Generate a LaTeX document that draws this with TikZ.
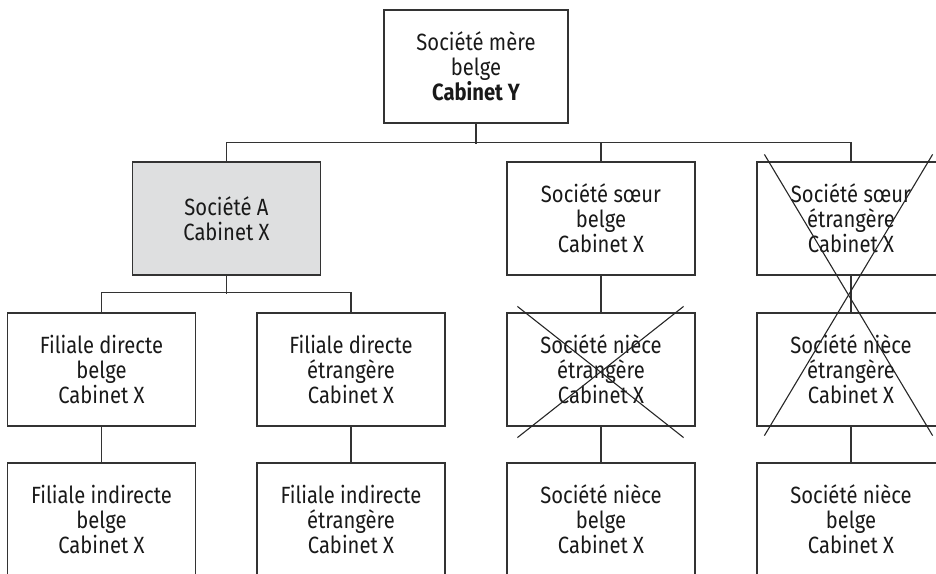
\documentclass[tikz,border=0pt]{standalone}
\usepackage{fontspec}
\setmainfont{Fira Sans}[FakeStretch=0.86]
\usetikzlibrary{calc}
\definecolor{linegray}{HTML}{333333}
\definecolor{boxgray}{HTML}{DEDFE0}
\tikzset{
every picture/.style={line width=1.2pt, x=1pt, y=-1pt},
%%%%%%%%%%  Node styles
entity/.style={rectangle, draw=linegray, minimum width=188pt,
               minimum height=113pt, inner sep=0pt, align=center,
               font=\fontsize{23.5}{25}\selectfont, text=black!90},
target/.style={entity, fill=boxgray},
%%%% different line styles:
link/.style={draw=linegray},
strike/.style={draw=black!85, line width=1.1pt}
}

\begin{document}
\begin{tikzpicture}
\useasboundingbox (0,0) rectangle (936,573);
\clip (0,0) rectangle (936,573);
%%%%%%% Boxes
\node[entity, minimum width=184pt] (mere) at (476,66.5)
{Société mère\\belge\\\textbf{Cabinet Y}};
\node[target] (socA) at (226.5,218.5) {Société A\\Cabinet X};
\node[entity] (soeurB) at (601,218.5) {Société sœur\\belge\\Cabinet X};
\node[entity] (soeurE) at (851,218.5) {Société sœur\\étrangère\\Cabinet X};
\node[entity] (fdB) at (101.5,369.5) {Filiale directe\\belge\\Cabinet X};
\node[entity] (fdE) at (351,369.5) {Filiale directe\\étrangère\\Cabinet X};
\node[entity] (nieceE) at (601,369.5) {Société nièce\\étrangère\\Cabinet X};
\node[entity] (nieceEE) at (851,369.5) {Société nièce\\étrangère\\Cabinet X};
\node[entity] (fiB) at (101.5,519.5) {Filiale indirecte\\belge\\Cabinet X};
\node[entity] (fiE) at (351,519.5) {Filiale indirecte\\étrangère\\Cabinet X};
\node[entity] (nieceB) at (601,519.5) {Société nièce\\belge\\Cabinet X};
\node[entity] (nieceEB) at (851,519.5) {Société nièce\\belge\\Cabinet X};
%%%%%%% Connectors
\draw[link] (mere.south) -- ++(0,20);
\draw[link] (socA.north) -- ++(0,-19) -| (soeurE.north);
\draw[link] (soeurB.north) -- ++(0,-19);
\draw[link] (socA.south) -- ++(0,18);
\draw[link] (fdB.north) -- ++(0,-20) -| (fdE.north);
\draw[link] (fdB) -- (fiB);
\draw[link] (fdE) -- (fiE);
\draw[link] (soeurB) -- (nieceE);
\draw[link] (nieceE) -- (nieceB);
\draw[link] (soeurE) -- (nieceEE);
\draw[link] (nieceEE) -- (nieceEB);
%%%%%%% Crossed out
\draw[strike] ($(nieceE.north west)+(11,-6)$) -- ($(nieceE.south east)+(-12,11)$);
\draw[strike] ($(nieceE.north east)+(-12,-6)$) -- ($(nieceE.south west)+(11,11)$);
\draw[strike] ($(soeurE.north west)+(8,-7)$) -- ($(nieceEE.south east)+(-13,9)$);
\draw[strike] ($(soeurE.north east)+(-13,-7)$) -- ($(nieceEE.south west)+(8,9)$);
\end{tikzpicture}
\end{document}
